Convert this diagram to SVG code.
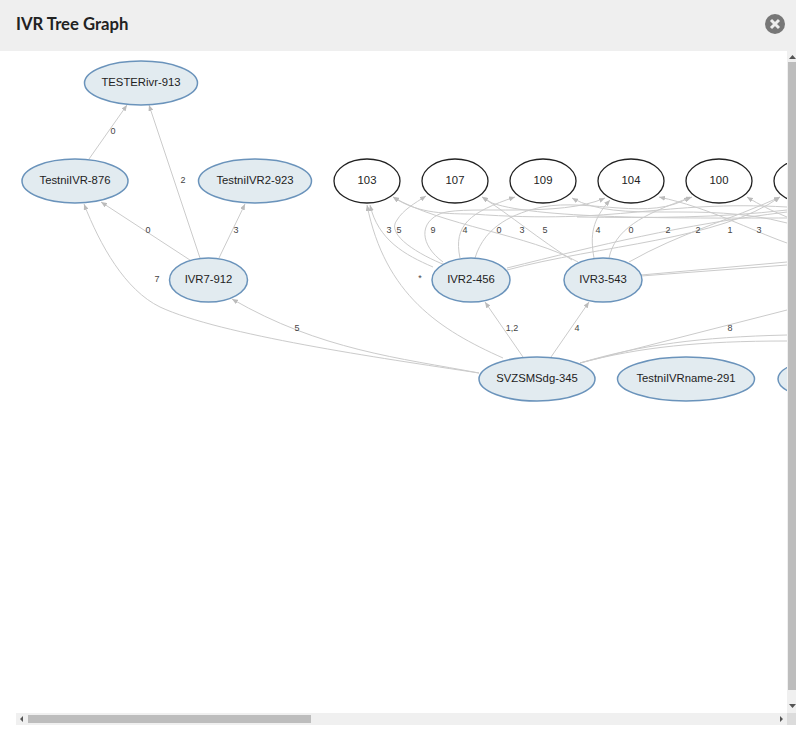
<svg xmlns="http://www.w3.org/2000/svg" width="796" height="734" viewBox="0 0 796 734">
<style>
.n{fill:#e2ebf0;stroke:#6a93bb;stroke-width:1.5}
.v{fill:#fff;stroke:#222;stroke-width:1.3}
.t{font:11.300px "Liberation Sans",Arial,sans-serif;fill:#222;text-anchor:middle}
.e{fill:none;stroke:#cbcbcb;stroke-width:1;marker-end:url(#a)}
.o{fill:none;stroke:#cbcbcb;stroke-width:1}
.l{font:9px "Liberation Sans",Arial,sans-serif;fill:#444;text-anchor:middle}
</style>
<defs>
<marker id="a" viewBox="0 0 6 5" refX="6" refY="2.500" markerWidth="6" markerHeight="5" markerUnits="userSpaceOnUse" orient="auto"><path d="M0 0L6 2.500L0 5z" fill="#bbb"/></marker>
<clipPath id="c"><rect x="0" y="51" width="787" height="662"/></clipPath>
</defs>
<rect width="796" height="734" fill="#fff"/>
<rect width="796" height="51" fill="#efefef"/>
<text x="16" y="30" style="font:bold 16.700px Lato,'Liberation Sans',sans-serif;fill:#222">IVR Tree Graph</text>
<g id="close"><circle cx="775" cy="24" r="10" fill="#777"/><path d="M771 20L779 28M779 20L771 28" stroke="#eee" stroke-width="3"/></g>
<g clip-path="url(#c)">
<g id="connectors">
<path class="e" d="M89 159L127 105"/>
<path class="e" d="M200 258L149 105"/>
<path class="e" d="M193 262L101 202"/>
<path class="e" d="M219 258L245 204"/>
<path class="e" d="M479 373C380 358 220 335 160 307C125 290 100 245 84 204"/>
<path class="e" d="M479 373C400 358 320 350 232 299"/>
<path class="e" d="M523 357L485 302"/>
<path class="e" d="M551 357L589 302"/>
<path class="e" d="M503 358C440 330 385 295 367 205"/>
<path class="e" d="M433 267C405 255 378 240 370 205"/>
<path class="e" d="M445 265C420 255 385 235 397 220C403 210 415 203 426 196"/>
<path class="e" d="M460 258C453 225 470 212 515 197"/>
<path class="e" d="M443 262C420 245 418 222 442 213C470 205 560 218 605 198"/>
<path class="e" d="M475 258C485 225 515 213 542 207C590 198 650 222 690 197"/>
<path class="e" d="M594 258C590 235 592 220 610 200"/>
<path class="e" d="M609 258C615 230 640 215 692 197"/>
<path class="e" d="M629 262C680 233 730 220 780 197"/>
<path class="e" d="M507 270C600 245 720 240 780 197"/>
<path class="o" d="M507 268C600 245 680 225 787 212"/>
<path class="e" d="M578 262C530 235 440 225 393 197"/>
<path class="e" d="M787 207C660 200 620 225 472 214C440 214 415 212 393 197"/>
<path class="e" d="M572 260C540 240 510 215 482 197"/>
<path class="e" d="M787 218C700 218 540 220 492 203L482 197"/>
<path class="e" d="M787 223C700 200 620 225 572 198"/>
<path class="o" d="M577 217C650 218 720 218 787 210"/>
<path class="e" d="M787 243C750 230 710 208 659 197"/>
<path class="e" d="M787 217C770 210 760 205 747 197"/>
<path class="o" d="M641 275L787 262"/>
<path class="o" d="M641 276L787 265"/>
<path class="o" d="M580 363L787 310"/>
<path class="o" d="M580 363C640 345 700 337 787 335"/>
<path class="o" d="M580 363C640 347 700 341 787 341"/>
</g>
<g id="edge-labels">
<text class="l" x="113" y="134">0</text><text class="l" x="183" y="183">2</text><text class="l" x="148" y="233">0</text><text class="l" x="236" y="233">3</text>
<text class="l" x="157" y="282">7</text><text class="l" x="297" y="331">5</text><text class="l" x="389" y="233">3</text><text class="l" x="399" y="233">5</text>
<text class="l" x="433" y="233">9</text><text class="l" x="465" y="233">4</text><text class="l" x="499" y="233">0</text><text class="l" x="522" y="233">3</text>
<text class="l" x="545" y="233">5</text><text class="l" x="598" y="233">4</text><text class="l" x="631" y="233">0</text><text class="l" x="668" y="233">2</text>
<text class="l" x="698" y="233">2</text><text class="l" x="730" y="233">1</text><text class="l" x="759" y="233">3</text><text class="l" x="420" y="281">*</text>
<text class="l" x="512" y="331">1,2</text><text class="l" x="577" y="331">4</text><text class="l" x="730" y="331">8</text>
</g>
<g id="tester913"><ellipse class="n" cx="141" cy="83" rx="56.500" ry="22"/><text class="t" x="141" y="85.500">TESTERivr-913</text></g>
<g id="testni876"><ellipse class="n" cx="75" cy="181" rx="53" ry="22"/><text class="t" x="75" y="183.500">TestniIVR-876</text></g>
<g id="testni923"><ellipse class="n" cx="255" cy="181" rx="56.500" ry="22"/><text class="t" x="255" y="183.500">TestniIVR2-923</text></g>
<g id="n103"><ellipse class="v" cx="367" cy="181" rx="33" ry="22"/><text class="t" x="367" y="183.500">103</text></g>
<g id="n107"><ellipse class="v" cx="455" cy="181" rx="33" ry="22"/><text class="t" x="455" y="183.500">107</text></g>
<g id="n109"><ellipse class="v" cx="543" cy="181" rx="33" ry="22"/><text class="t" x="543" y="183.500">109</text></g>
<g id="n104"><ellipse class="v" cx="631" cy="181" rx="33" ry="22"/><text class="t" x="631" y="183.500">104</text></g>
<g id="n100"><ellipse class="v" cx="719" cy="181" rx="33" ry="22"/><text class="t" x="719" y="183.500">100</text></g>
<g id="nclipped"><ellipse class="v" cx="807" cy="181" rx="33" ry="22"/></g>
<g id="ivr7"><ellipse class="n" cx="208.500" cy="280" rx="39" ry="22"/><text class="t" x="208.500" y="283">IVR7-912</text></g>
<g id="ivr2"><ellipse class="n" cx="471" cy="280" rx="39" ry="22"/><text class="t" x="471" y="283">IVR2-456</text></g>
<g id="ivr3"><ellipse class="n" cx="603" cy="280" rx="39" ry="22"/><text class="t" x="603" y="283">IVR3-543</text></g>
<g id="svz"><ellipse class="n" cx="537" cy="379" rx="58" ry="22"/><text class="t" x="537" y="382">SVZSMSdg-345</text></g>
<g id="testni291"><ellipse class="n" cx="686" cy="379" rx="68.500" ry="22"/><text class="t" x="686" y="382">TestniIVRname-291</text></g>
<g id="sclipped"><ellipse class="n" cx="840" cy="379" rx="62" ry="22"/></g>
</g>
<g id="scrollbars">
<rect x="787" y="51" width="9" height="662" fill="#f0f0f0"/>
<rect x="788" y="62" width="8" height="628" fill="#bdbdbd"/>
<path d="M789 59L792.500 55L796 59zM789 704L796 704L792.500 708z" fill="#555"/>
<rect x="16" y="713" width="771" height="12" fill="#f0f0f0"/>
<rect x="787" y="713" width="9" height="12" fill="#dcdcdc"/>
<rect x="28" y="715" width="283" height="8" fill="#bdbdbd"/>
<path d="M23 716L20 719L23 722zM780 716L783 719L780 722z" fill="#555"/>
</g>
</svg>
